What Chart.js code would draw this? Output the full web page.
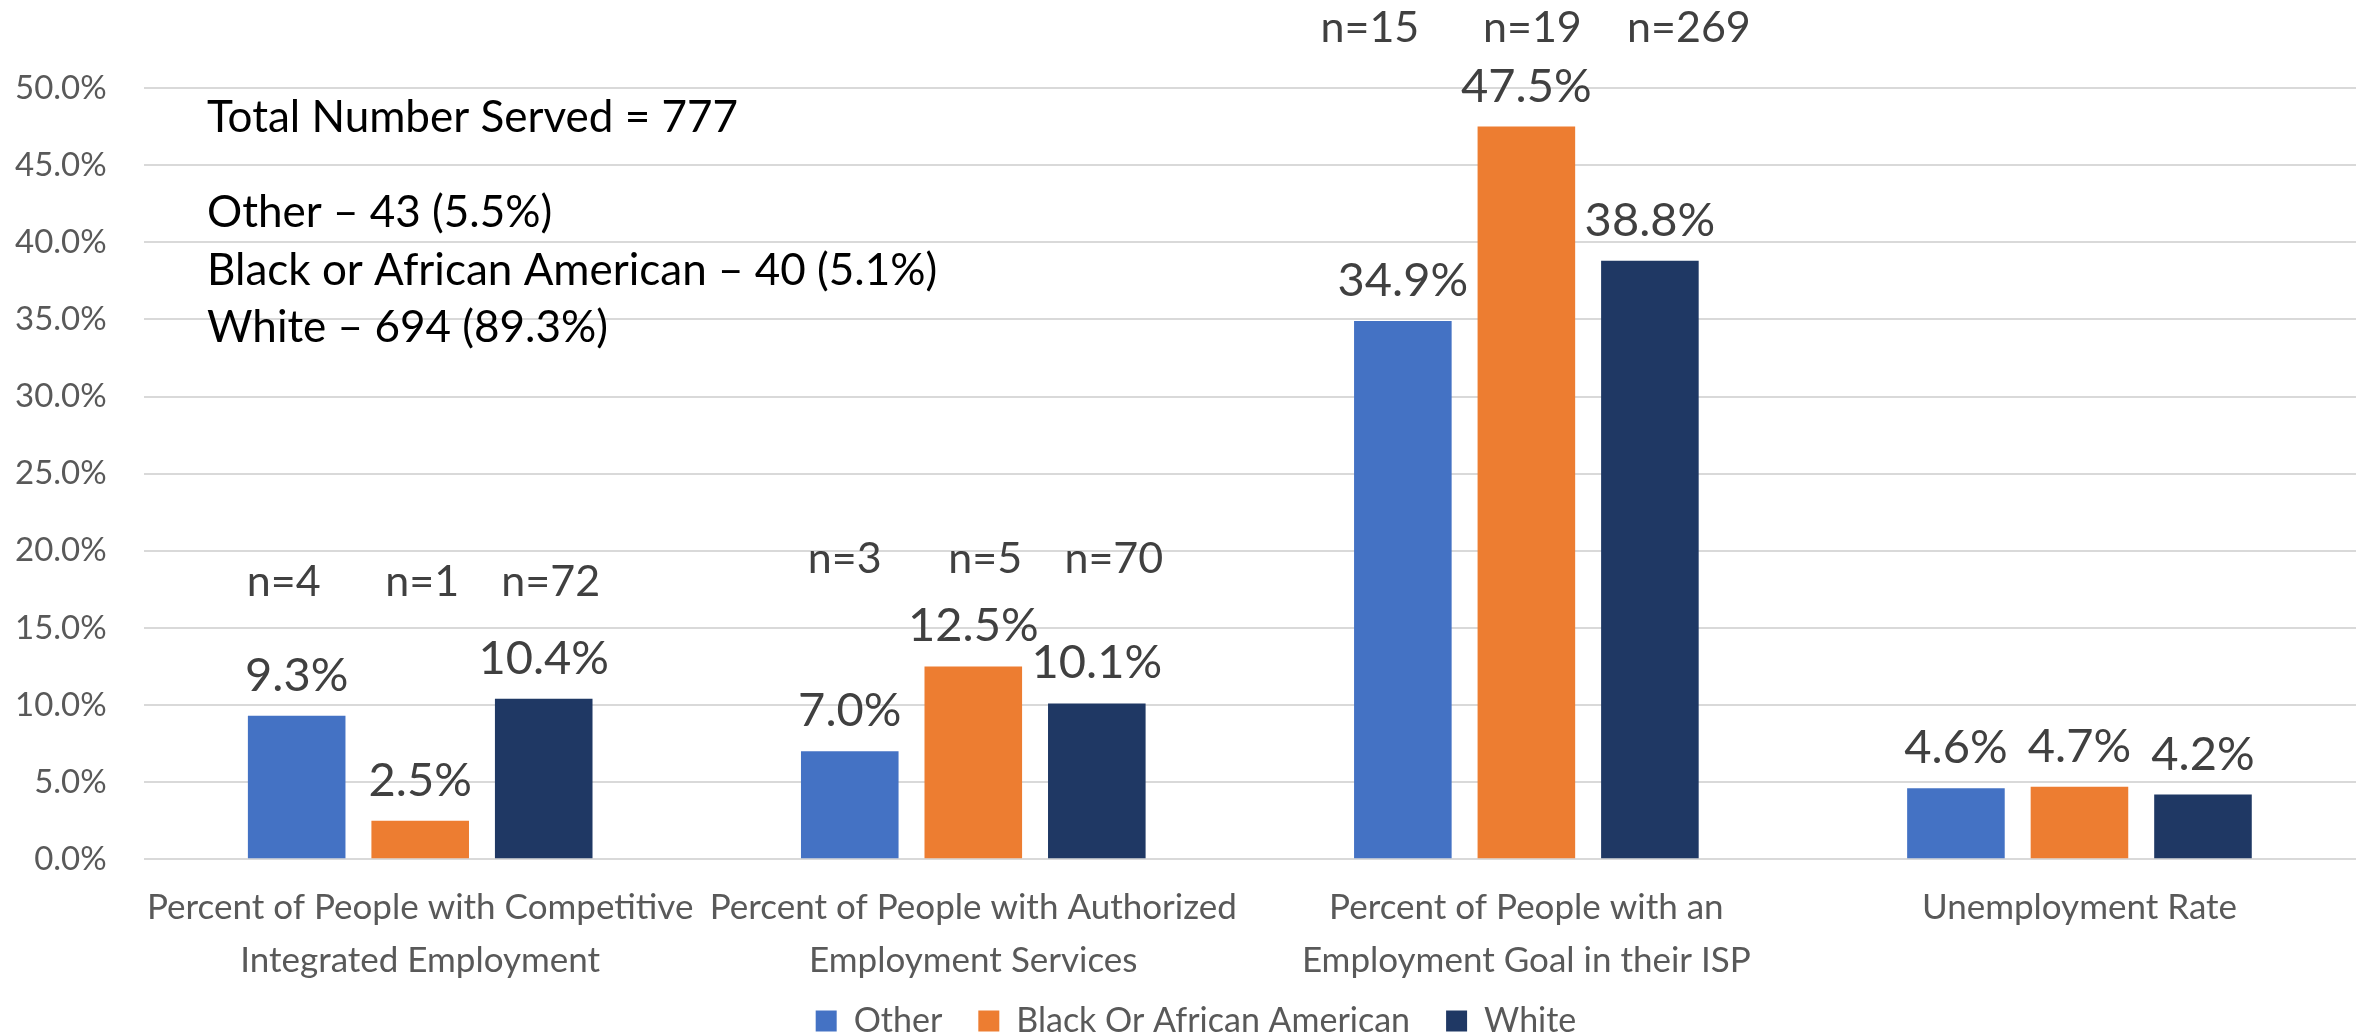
<!DOCTYPE html>
<html>
<head>
<meta charset="utf-8">
<script src="https://cdn.jsdelivr.net/npm/chart.js@4/dist/chart.umd.min.js"></script>
<style>
  body { margin: 0; background: #fff; }
  #wrap { width: 2366px; height: 1035px; position: relative; }
</style>
</head>
<body>
<div id="wrap"><canvas id="myChart"></canvas></div>
<script>
// categories and series
var categories = [
    ['Percent of People with Competitive', 'Integrated Employment'],
    ['Percent of People with Authorized', 'Employment Services'],
    ['Percent of People with an', 'Employment Goal in their ISP'],
    'Unemployment Rate'
];
var seriesNames = ['Other', 'Black Or African American', 'White'];
var otherValues = [9.3, 7.0, 34.9, 4.6];
var blackValues = [2.5, 12.5, 47.5, 4.7];
var whiteValues = [10.4, 10.1, 38.8, 4.2];

// counts shown above the groups (none for unemployment rate)
var otherCounts = [4, 3, 15, null];
var blackCounts = [1, 5, 19, null];
var whiteCounts = [72, 70, 269, null];

var summaryLines = [
    'Total Number Served = 777',
    'Other \u2013 43 (5.5%)',
    'Black or African American \u2013 40 (5.1%)',
    'White \u2013 694 (89.3%)'
];

var yTicks = [0, 5, 10, 15, 20, 25, 30, 35, 40, 45, 50];

Chart.defaults.font.family = 'Lato, "Open Sans", sans-serif';

// value labels on top of bars, "n=" text boxes above groups, summary text
var labelPlugin = {
    id: 'barLabels',
    afterLayout: function(chart) {
        // pull the legend up closer to the axis labels, like the original
        var lg = chart.legend;
        lg.top -= 41; lg.bottom -= 41;
        lg.left += 29; lg.right += 29;
    },
    afterDatasetsDraw: function(chart) {
        var ctx = chart.ctx;
        var yScale = chart.scales.y;
        var counts = [otherCounts, blackCounts, whiteCounts];
        // text box placement: baseline level (in %) and x nudges per group
        var nLevels = [17.07, 18.56, 52.95];
        var nShift = [[-13, -5, -33], [2, 12, 6], [7, 17, 39]];
        ctx.save();
        ctx.fillStyle = '#404040';
        ctx.textAlign = 'center';
        ctx.textBaseline = 'alphabetic';
        chart.data.datasets.forEach(function(ds, di) {
            var meta = chart.getDatasetMeta(di);
            meta.data.forEach(function(bar, i) {
                ctx.font = '47px Lato';
                ctx.fillText(ds.data[i].toFixed(1) + '%', bar.x, bar.y - 25);
                var n = counts[di][i];
                if (n !== null) {
                    ctx.font = '43px Lato';
                    ctx.fillText('n=' + n, bar.x + nShift[di][i], yScale.getPixelForValue(nLevels[i]));
                }
            });
        });
        ctx.font = '44px Lato';
        ctx.fillStyle = '#000';
        ctx.textAlign = 'left';
        var baseY = [132, 227, 285, 342];
        summaryLines.forEach(function(t, k) {
            ctx.fillText(t, 207, baseY[k]);
        });
        ctx.restore();
    }
};

var ctx = document.getElementById('myChart').getContext('2d');
var myChart = new Chart(ctx, {
    type: 'bar',
    data: {
        labels: categories,
        datasets: [{
            label: seriesNames[0],
            data: otherValues,
            backgroundColor: '#4472C4'
        }, {
            label: seriesNames[1],
            data: blackValues,
            backgroundColor: '#ED7D31'
        }, {
            label: seriesNames[2],
            data: whiteValues,
            backgroundColor: '#1F3864'
        }]
    },
    options: {
        responsive: true,
        maintainAspectRatio: false,
        animation: false,
        categoryPercentage: 0.67,
        barPercentage: 0.79,
        layout: {
            padding: { top: 88, left: -22, right: 10, bottom: -54 }
        },
        plugins: {
            legend: {
                position: 'bottom',
                labels: {
                    boxWidth: 21,
                    boxHeight: 21,
                    padding: 36,
                    color: '#595959',
                    font: { size: 34 }
                }
            },
            tooltip: { enabled: false }
        },
        scales: {
            x: {
                grid: { display: false, drawTicks: false },
                border: { display: false },
                ticks: {
                    color: '#595959',
                    font: { size: 35, lineHeight: 1.51 },
                    padding: 22,
                    maxRotation: 0,
                    autoSkip: false
                },
                afterFit: function(axis) {
                    axis.paddingLeft = 0;
                    axis.paddingRight = 0;
                }
            },
            y: {
                min: 0,
                max: 50,
                afterBuildTicks: function(axis) {
                    axis.ticks = yTicks.map(function(v) { return { value: v }; });
                },
                afterFit: function(axis) {
                    axis.paddingTop = 0;
                    axis.paddingBottom = 0;
                },
                grid: {
                    color: '#d9d9d9',
                    lineWidth: 2,
                    drawTicks: false
                },
                border: { display: false },
                ticks: {
                    color: '#595959',
                    font: { size: 33 },
                    padding: 37,
                    callback: function(v) { return v.toFixed(1) + '%'; }
                }
            }
        }
    },
    plugins: [labelPlugin]
});
</script>
</body>
</html>
